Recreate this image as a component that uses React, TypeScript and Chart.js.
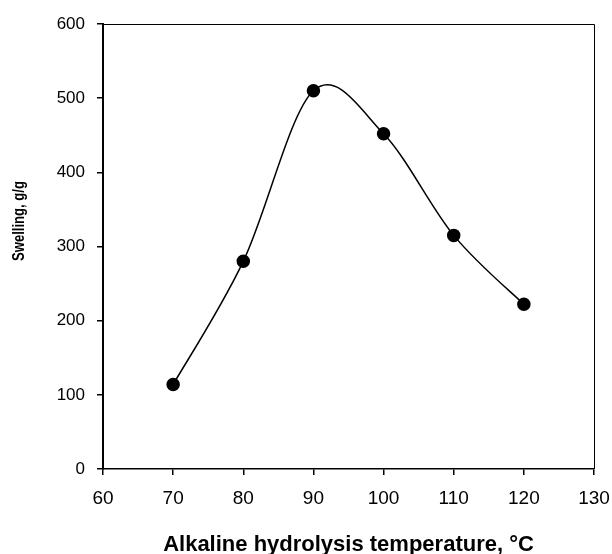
import React, { useEffect, useRef } from "react";
import { Chart, registerables } from "chart.js";

Chart.register(...registerables);

const temperatures = [70, 80, 90, 100, 110, 120];
const swelling = [114, 280, 510, 452, 315, 222];
const xTitle = "Alkaline hydrolysis temperature, \u00B0C";
const yTitle = "Swelling, g/g";

const FONT = "'Liberation Sans', Arial, Helvetica, sans-serif";

// Excel-like smoothed line: Catmull-Rom control points from the point elements
const smoothPlugin = {
  id: "smooth",
  beforeDatasetDraw(chart: any, args: any) {
    const meta = args.meta;
    const pts = meta.data;
    const n = pts.length;
    for (let i = 0; i < n; i++) {
      const p = pts[i];
      const prev = pts[Math.max(0, i - 1)];
      const next = pts[Math.min(n - 1, i + 1)];
      const dx = (next.x - prev.x) / 6;
      const dy = (next.y - prev.y) / 6;
      p.cp1x = p.x - dx;
      p.cp1y = p.y - dy;
      p.cp2x = p.x + dx;
      p.cp2y = p.y + dy;
    }
    if (meta.dataset) meta.dataset._pointsUpdated = true;
  },
};

const framePlugin = {
  id: "frame",
  afterDraw(chart: any) {
    const { ctx, chartArea } = chart;
    ctx.save();
    ctx.strokeStyle = "#000";
    ctx.lineWidth = 1;
    ctx.beginPath();
    ctx.moveTo(chartArea.left, chartArea.top + 0.5);
    ctx.lineTo(chartArea.right + 0.5, chartArea.top + 0.5);
    ctx.lineTo(chartArea.right + 0.5, chartArea.bottom);
    ctx.stroke();
    ctx.translate(19, 221);
    ctx.rotate(-Math.PI / 2);
    ctx.fillStyle = "#000";
    ctx.font = `bold 17px ${FONT}`;
    const w = ctx.measureText(yTitle).width;
    ctx.scale(80 / w, 1);
    ctx.textAlign = "center";
    ctx.textBaseline = "middle";
    ctx.fillText(yTitle, 0, 0);
    ctx.restore();
  },
};

export default function App() {
  const ref = useRef<HTMLCanvasElement>(null);
  useEffect(() => {
    if (!ref.current) return;
    const data = temperatures.map((t, i) => ({ x: t, y: swelling[i] }));
    const chart = new Chart(ref.current, {
      type: "line",
      data: {
        datasets: [
          {
            data,
            borderColor: "#000",
            borderWidth: 1.5,
            backgroundColor: "#000",
            pointBackgroundColor: "#000",
            pointBorderColor: "#000",
            pointRadius: 6,
            tension: 0.3,
            fill: false,
          },
        ],
      },
      options: {
        animation: false,
        responsive: false,
        layout: { padding: { left: 0, right: 0, top: 24, bottom: 0 } },
        plugins: { legend: { display: false }, tooltip: { enabled: false } },
        scales: {
          x: {
            type: "linear",
            min: 60,
            max: 130,
            ticks: { stepSize: 10, color: "#000", font: { family: FONT, size: 19 }, padding: 12, maxRotation: 0 },
            grid: { drawOnChartArea: false, drawTicks: true, tickLength: 6, color: "#000", lineWidth: 1.5 },
            border: { display: true, color: "#000", width: 1.5 },
            title: { display: true, text: xTitle, color: "#000", font: { family: FONT, size: 22, weight: "bold", lineHeight: 1 }, padding: { top: 0, bottom: -2 } },
            afterFit: (s: any) => { s.height = 85; s.paddingRight = 18; s.paddingLeft = 0; },
          },
          y: {
            min: 0,
            max: 600,
            ticks: { stepSize: 100, color: "#000", font: { family: FONT, size: 17 }, padding: 12 },
            grid: { drawOnChartArea: false, drawTicks: true, tickLength: 6, color: "#000", lineWidth: 1.5 },
            border: { display: true, color: "#000", width: 2 },
            afterFit: (s: any) => { s.width = 103; s.paddingTop = 0; s.paddingBottom = 0; },
          },
        },
      },
      plugins: [smoothPlugin, framePlugin],
    });
    return () => chart.destroy();
  }, []);
  return (
    <div style={{ position: "fixed", left: 0, top: 0, width: 612, height: 554, background: "#fff" }}>
      <canvas ref={ref} width={612} height={554} style={{ display: "block" }} />
    </div>
  );
}
